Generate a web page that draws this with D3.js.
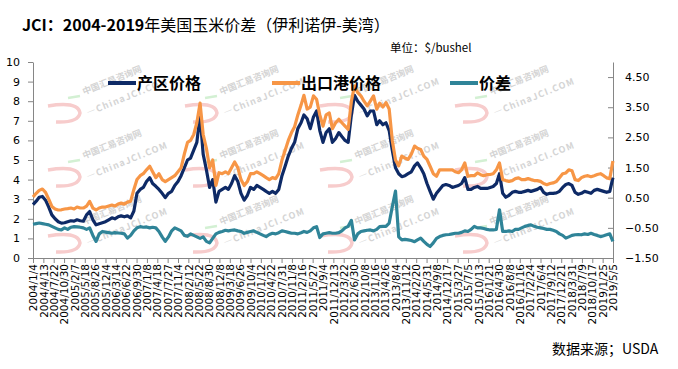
<!DOCTYPE html>
<html lang="zh-CN">
<head>
<meta charset="UTF-8">
<title>JCI 美国玉米价差</title>
<style>
  body { margin: 0; background: #fff; }
  .axis path, .axis line { stroke: #868686; }
  .axis text { font: 11px "DejaVu Sans", sans-serif; fill: #000; }
  .cjk { font-family: "Noto Sans CJK SC", sans-serif; }
  .series { fill: none; stroke-width: 3.2px; stroke-linejoin: round; }
  .wm text { fill: #d4d4d4; font-family: "Noto Sans CJK SC", sans-serif; }
</style>
</head>
<body>
<script src="https://cdn.jsdelivr.net/npm/d3@7/dist/d3.min.js"></script>
<script>
// 月度数据（每月4日），2004/1 - 2019/5
const startMonth = new Date(2004, 0, 4);

// 产区价格（伊利诺伊）$/bushel
const producer = [
  2.72, 2.9, 3.1, 3.14, 2.95, 2.6, 2.2, 2.0, 1.85, 1.78, 1.8, 1.85,
  1.9, 1.88, 1.95, 1.9, 1.88, 2.2, 2.37, 1.95, 1.69, 1.75, 1.8, 1.85,
  1.95, 2.05, 2.0, 2.1, 2.15, 2.1, 2.15, 2.05, 2.4, 3.3, 3.5, 3.6,
  3.9, 4.1, 3.8, 3.66, 3.5, 3.3, 3.08, 3.3, 3.4, 3.7, 3.9, 4.2,
  4.6, 5.0, 5.1, 5.5, 5.9, 7.3, 5.3, 4.5, 3.6, 4.0, 2.85, 3.4,
  3.5, 3.6, 3.5, 3.8, 4.2, 3.9, 3.3, 2.95, 3.2, 3.6, 3.5, 3.7,
  3.6, 3.5, 3.4, 3.3, 3.4, 3.3, 3.5, 4.2, 4.7, 5.2, 5.6, 5.9,
  6.6, 6.9, 7.3, 7.1, 6.6, 7.2, 7.5, 6.5, 5.9, 6.4, 6.6, 5.9,
  6.1, 6.4, 6.2, 6.0, 5.9, 7.3, 8.3, 8.0, 7.8, 7.6, 7.25, 7.5,
  7.5, 6.8, 7.0, 6.8, 6.9, 6.5, 5.5, 4.6, 4.3, 4.15, 4.2, 4.3,
  4.4, 4.7, 4.85, 4.6, 4.3, 3.8, 3.4, 3.0, 3.3, 3.5, 3.7, 3.75,
  3.7, 3.6, 3.65, 3.7, 3.8, 4.1, 3.5, 3.5, 3.6, 3.65, 3.55, 3.55,
  3.55, 3.6, 3.65, 3.8, 4.3, 3.3, 3.1, 3.2, 3.35, 3.4, 3.35, 3.35,
  3.4, 3.45, 3.4, 3.45, 3.5, 3.6, 3.35, 3.25, 3.3, 3.3, 3.32, 3.4,
  3.6, 3.75, 3.8, 3.7, 3.35, 3.25, 3.3, 3.4, 3.35, 3.3, 3.45, 3.5,
  3.45, 3.4, 3.35, 3.4, 4.1
];

// 出口港价格（美湾）$/bushel
const gulf = [
  3.11, 3.3, 3.45, 3.52, 3.35, 3.0, 2.63, 2.5, 2.45, 2.46, 2.5, 2.52,
  2.55, 2.5, 2.6, 2.55, 2.55, 2.65, 2.89, 2.55, 2.45, 2.55, 2.6, 2.6,
  2.65, 2.7, 2.65, 2.75, 2.8, 2.75, 2.85, 2.9, 3.5, 4.0, 4.2, 4.3,
  4.5, 4.68, 4.4, 4.1, 4.3, 4.0, 3.9, 4.0, 4.1, 4.2, 4.4, 4.6,
  5.3, 5.9, 6.0, 6.3, 6.9, 7.9, 6.3, 5.6, 4.6, 5.0, 3.7, 4.35,
  4.3, 4.4, 4.3, 4.6, 4.9, 4.6, 4.0, 3.7, 3.9, 4.3, 4.3, 4.4,
  4.3, 4.2, 4.1, 4.0, 4.1, 4.05, 4.3, 5.0, 5.5, 6.0, 6.4, 6.7,
  7.3, 7.8, 8.3, 7.6, 7.7, 8.27, 8.1, 7.3, 6.73, 7.3, 7.4, 6.6,
  6.9, 7.08, 6.9, 6.73, 6.56, 8.0, 8.78, 8.44, 8.27, 8.0, 7.76, 8.0,
  8.27, 7.59, 7.9, 7.7, 7.93, 7.6, 6.0, 5.0, 4.7, 5.2, 5.1, 5.03,
  5.3, 5.71, 5.6, 5.54, 5.2, 5.03, 4.68, 4.3, 4.17, 4.5, 4.5, 4.5,
  4.5, 4.5, 4.4, 4.35, 4.5, 4.85, 4.17, 4.2, 4.2, 4.34, 4.25, 4.2,
  4.25, 4.26, 4.3, 4.5, 4.85, 4.0, 3.95, 3.91, 3.95, 4.05, 4.09, 4.0,
  4.0, 4.05, 4.0, 3.95, 3.95, 3.91, 3.8, 3.74, 3.8, 3.83, 3.9, 4.1,
  4.3, 4.34, 4.5, 4.45, 4.0, 3.95, 4.1, 4.17, 4.2, 4.15, 4.2, 4.26,
  4.3, 4.2, 4.09, 4.05, 4.95
];

// 价差（伊利诺伊-美湾），次坐标轴
const spread = [
  -0.38, -0.36, -0.34, -0.36, -0.38, -0.4, -0.45, -0.5, -0.55, -0.57, -0.5, -0.55,
  -0.48, -0.46, -0.47, -0.48, -0.5, -0.55, -0.5, -0.75, -0.95, -0.7, -0.62, -0.64,
  -0.66, -0.68, -0.66, -0.67, -0.68, -0.7, -0.84, -0.75, -0.6, -0.5, -0.46, -0.48,
  -0.47, -0.5, -0.48, -0.5, -0.62, -0.8, -0.95, -0.8, -0.6, -0.5, -0.55, -0.6,
  -0.75, -0.78, -0.7, -0.75, -0.8, -0.85, -0.8, -0.95, -1.0, -0.85, -0.7, -0.65,
  -0.62, -0.58, -0.6, -0.58, -0.57, -0.6, -0.62, -0.68, -0.65, -0.62, -0.6, -0.65,
  -0.7, -0.75, -0.79, -0.72, -0.68, -0.7, -0.66, -0.6, -0.62, -0.65, -0.68, -0.68,
  -0.7, -0.66, -0.62, -0.65, -0.6, -0.5, -0.46, -0.82, -0.7, -0.68, -0.66, -0.68,
  -0.68, -0.66, -0.6, -0.5, -0.45, -0.25, -0.9, -0.7, -0.62, -0.6, -0.58, -0.57,
  -0.6, -0.55, -0.46, -0.45, -0.45, -0.34, 0.2, 0.72, -0.8, -0.9, -0.88, -0.9,
  -0.92, -0.96, -0.9, -0.84, -0.95, -1.05, -1.12, -1.0, -0.85, -0.79, -0.75, -0.73,
  -0.72, -0.7, -0.68, -0.68, -0.65, -0.6, -0.62, -0.55, -0.45, -0.5, -0.5, -0.52,
  -0.55, -0.57, -0.57, -0.55, 0.1, -0.62, -0.62, -0.6, -0.62, -0.55, -0.55, -0.5,
  -0.45, -0.42, -0.4, -0.45, -0.48, -0.5, -0.52, -0.55, -0.55, -0.58, -0.62, -0.7,
  -0.75, -0.84, -0.8, -0.75, -0.73, -0.72, -0.73, -0.7, -0.72, -0.68, -0.72, -0.75,
  -0.79, -0.76, -0.73, -0.7, -0.95
];

// 横轴标签（每100天）
const tickLabels = [
  "2004/1/4", "2004/4/13", "2004/7/22", "2004/10/30", "2005/2/7", "2005/5/18",
  "2005/8/26", "2005/12/4", "2006/3/14", "2006/6/22", "2006/9/30", "2007/1/8",
  "2007/4/18", "2007/7/27", "2007/11/4", "2008/2/12", "2008/5/22", "2008/8/30",
  "2008/12/8", "2009/3/18", "2009/6/26", "2009/10/4", "2010/1/12", "2010/4/22",
  "2010/7/31", "2010/11/8", "2011/2/16", "2011/5/27", "2011/9/4", "2011/12/13",
  "2012/3/22", "2012/6/30", "2012/10/8", "2013/1/16", "2013/4/26", "2013/8/4",
  "2013/11/12", "2014/2/20", "2014/5/31", "2014/9/8", "2014/12/17", "2015/3/27",
  "2015/7/5", "2015/10/13", "2016/1/21", "2016/4/30", "2016/8/8", "2016/11/16",
  "2017/2/24", "2017/6/4", "2017/9/12", "2017/12/21", "2018/3/31", "2018/7/9",
  "2018/10/17", "2019/1/25", "2019/5/5"
];
const leftTicks = [0, 1, 2, 3, 4, 5, 6, 7, 8, 9, 10];
const rightTicks = [-1.5, -0.5, 0.5, 1.5, 2.5, 3.5, 4.5];

const seriesNames = ["产区价格", "出口港价格", "价差"];
const colors = ["#0e2a66", "#f79646", "#2f8498"];

const W = 678, H = 369;
const parse = d3.timeParse("%Y/%-m/%-d");
const tickDates = tickLabels.map(parse);
const dates = producer.map((_, i) => d3.timeMonth.offset(startMonth, i));

const svg = d3.select("body").append("svg")
  .attr("width", W).attr("height", H)
  .style("display", "block");
svg.append("rect").attr("width", W).attr("height", H).attr("fill", "#fff");

const x = d3.scaleTime().domain([tickDates[0], tickDates[tickDates.length - 1]]).range([33, 613]);
const yL = d3.scaleLinear().domain([0, 10]).range([258, 62]);
const yR = d3.scaleLinear().domain([-1.5, 5]).range([258, 62]);

// 水印（中国汇易咨询网）
const wm = svg.append("g").attr("class", "wm");
[113, 177, 243].forEach(wy => {
  [48, 185, 320, 455].forEach(wx => {
    const t = wm.append("g").attr("transform", `translate(${wx},${wy})`);
    t.append("path")
      .attr("d", "M0,-7 Q30,-12 32,0 Q30,10 8,9")
      .attr("fill", "none").attr("stroke", "#f7cccc").attr("stroke-width", 3.5);
    t.append("line").attr("x1", 20).attr("x2", 32).attr("y1", -15).attr("y2", -17)
      .attr("stroke", "#d3f0d3").attr("stroke-width", 2.5);
    t.append("text").attr("transform", "translate(36,-18) rotate(-22)")
      .attr("font-size", 9).attr("font-weight", "bold").text("中国汇易咨询网");
    t.append("text").attr("transform", "translate(40,3) rotate(-22)")
      .attr("font-size", 9).attr("font-weight", "bold").attr("letter-spacing", 1.2)
      .text("—ChinaJCI.COM");
  });
});

// 标题
const title = svg.append("text").attr("class", "cjk")
  .attr("x", 22).attr("y", 31).attr("font-size", 16).attr("fill", "#000");
title.append("tspan").attr("font-weight", "bold").text("JCI：2004-2019");
title.append("tspan").text("年美国玉米价差（伊利诺伊-美湾）");

svg.append("text").attr("class", "cjk")
  .attr("x", 390).attr("y", 52).attr("font-size", 11.5)
  .text("单位：$/bushel");

svg.append("text").attr("class", "cjk")
  .attr("x", 552).attr("y", 354).attr("font-size", 14)
  .text("数据来源；USDA");

// 坐标轴
svg.append("g").attr("class", "axis")
  .attr("transform", "translate(33,0)")
  .call(d3.axisLeft(yL).tickValues(leftTicks).tickSize(5).tickPadding(8).tickSizeOuter(0));

svg.append("g").attr("class", "axis")
  .attr("transform", "translate(613,0)")
  .call(d3.axisRight(yR).tickValues(rightTicks).tickFormat(d3.format(".2f"))
    .tickSizeInner(-5).tickSizeOuter(0).tickPadding(12));

const xAxis = svg.append("g").attr("class", "axis")
  .attr("transform", "translate(0,258)")
  .call(d3.axisBottom(x).tickValues(tickDates).tickSize(5).tickSizeOuter(0).tickFormat(""));

xAxis.selectAll(".tick").append("text")
  .attr("transform", "rotate(-90)")
  .attr("x", -6).attr("y", 0).attr("dy", "0.35em")
  .attr("text-anchor", "end")
  .style("font-size", "10.5px")
  .text((d, i) => tickLabels[i]);

// 折线
const lineL = d3.line().x((d, i) => x(dates[i])).y(d => yL(d));
const lineR = d3.line().x((d, i) => x(dates[i])).y(d => yR(d));

svg.append("path").attr("class", "series").attr("stroke", colors[0]).attr("d", lineL(producer));
svg.append("path").attr("class", "series").attr("stroke", colors[1]).attr("d", lineL(gulf));
svg.append("path").attr("class", "series").attr("stroke", colors[2]).attr("d", lineR(spread));

// 图例
const legendX = [108, 272, 450];
const legend = svg.append("g");
seriesNames.forEach((name, i) => {
  legend.append("line")
    .attr("x1", legendX[i]).attr("x2", legendX[i] + 28)
    .attr("y1", 83).attr("y2", 83)
    .attr("stroke", colors[i]).attr("stroke-width", 4);
  legend.append("text").attr("class", "cjk")
    .attr("x", legendX[i] + 29).attr("y", 89)
    .attr("font-size", 16).attr("font-weight", "bold")
    .text(name);
});
</script>
</body>
</html>
